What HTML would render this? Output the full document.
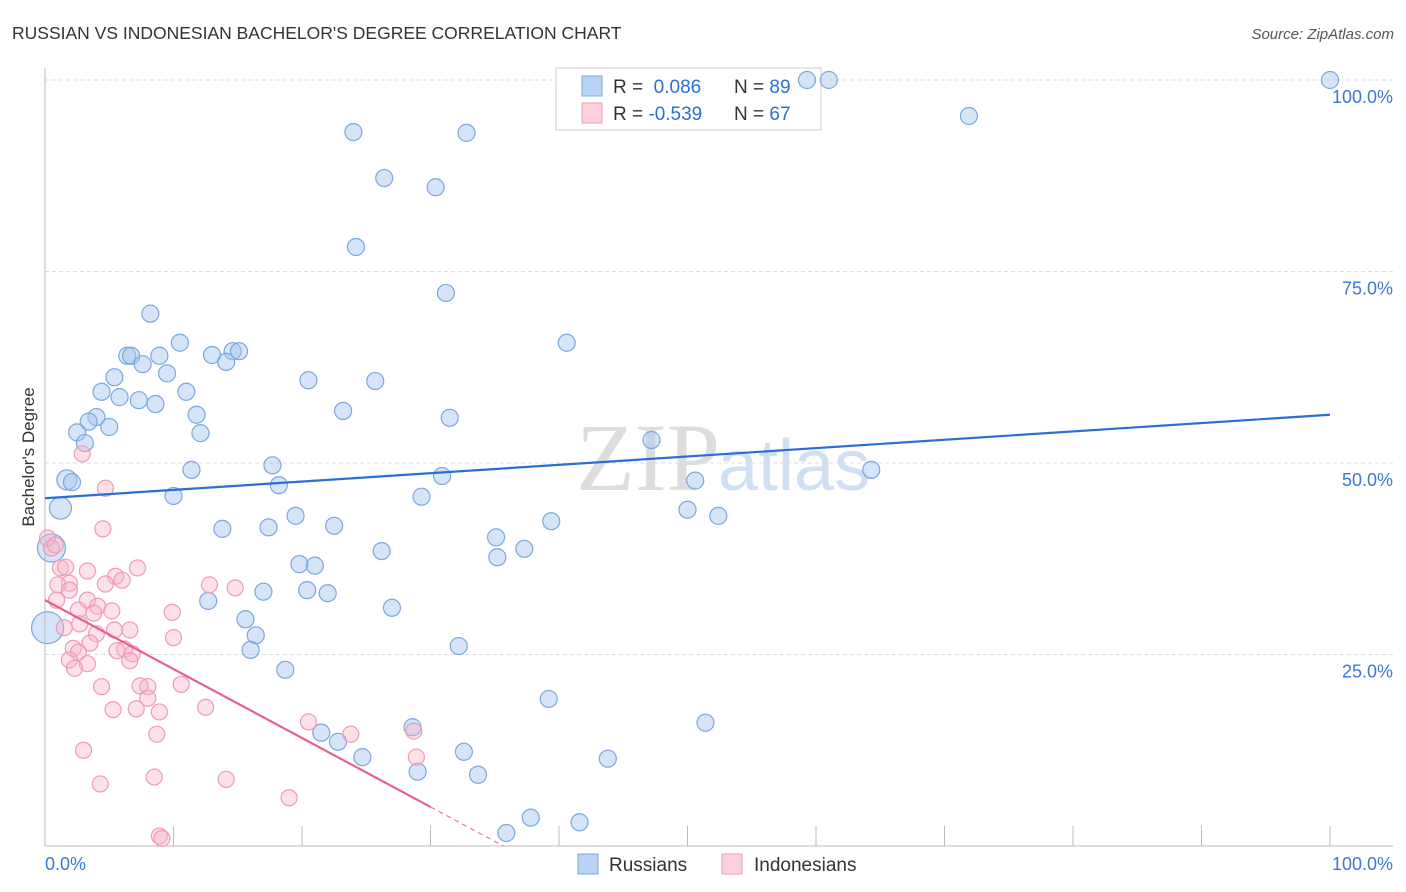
<!DOCTYPE html>
<html><head><meta charset="utf-8"><style>
body{margin:0;background:#fff;width:1406px;height:892px;overflow:hidden;font-family:"Liberation Sans",sans-serif}
svg{position:absolute;left:0;top:0}
</style></head><body>
<svg id="c" width="1406" height="892">
<text x="12" y="39" font-size="17.5" fill="#333">RUSSIAN VS INDONESIAN BACHELOR'S DEGREE CORRELATION CHART</text>
<text x="1394" y="39" font-size="15" fill="#555" font-style="italic" text-anchor="end">Source: ZipAtlas.com</text>
<text x="34" y="457" font-size="17" fill="#333" transform="rotate(-90 34 457)" text-anchor="middle">Bachelor's Degree</text>
<text x="720" y="490" font-size="96" font-family="Liberation Serif,serif" fill="#ddd" text-anchor="end">ZIP</text>
<text x="718" y="490" font-size="72" fill="#cfe0f5">atlas</text>
<g id="grid"></g>
<g>
<rect x="556" y="68" width="265" height="62" fill="#fff" stroke="#ccc"/>
<rect x="582" y="76" width="20" height="20" fill="#b9d3f5" stroke="#7aa7e0"/>
<rect x="582" y="103" width="20" height="20" fill="#fcd0dc" stroke="#f09ab5"/>
<text x="613" y="93" font-size="19" fill="#333">R = <tspan fill="#2a6fd4">&#160;0.086</tspan></text>
<text x="734" y="93" font-size="19" fill="#333">N = <tspan fill="#2a6fd4">89</tspan></text>
<text x="613" y="120" font-size="19" fill="#333">R = <tspan fill="#2a6fd4">-0.539</tspan></text>
<text x="734" y="120" font-size="19" fill="#333">N = <tspan fill="#2a6fd4">67</tspan></text>
</g>
<g id="pts"></g><g id="lines"></g>
<g>
<rect x="578" y="854" width="20" height="20" fill="#b9d3f5" stroke="#7aa7e0"/>
<text x="609" y="871" font-size="19" fill="#333">Russians</text>
<rect x="722" y="854" width="20" height="20" fill="#fcd0dc" stroke="#f09ab5"/>
<text x="754" y="871" font-size="19" fill="#333">Indonesians</text>
</g>
</svg>
<script>
const blueX=[100,61.0,59.3,71.9,24.0,32.8,26.4,30.4,24.2,31.2,8.2,40.6,10.5,6.4,6.7,8.9,13.0,14.6,15.1,14.1,7.6,5.4,9.5,20.5,25.7,4.4,11.0,5.8,7.3,8.6,23.2,11.8,31.5,4.0,3.4,5.0,2.5,12.1,3.1,47.2,64.3,11.4,17.7,1.7,2.1,30.9,18.2,50.6,10.0,29.3,1.2,50.0,52.4,19.5,39.4,13.8,17.4,22.5,35.1,37.3,26.2,35.2,0.5,19.8,21.0,20.4,17.0,22.0,12.7,27.0,15.6,16.4,32.2,16.0,0.2,18.7,39.2,51.4,28.6,21.5,22.8,32.6,24.7,43.8,29.0,33.7,37.8,35.9,41.6];
const blueY=[100,100,100,95.3,93.2,93.1,87.2,86.0,78.2,72.2,69.5,65.7,65.7,64.0,64.0,64.0,64.1,64.6,64.6,63.2,62.9,61.2,61.7,60.8,60.7,59.3,59.3,58.6,58.2,57.7,56.8,56.3,55.9,56.0,55.4,54.7,54.0,53.9,52.6,53.0,49.1,49.1,49.7,47.8,47.5,48.3,47.1,47.7,45.7,45.6,44.1,43.9,43.1,43.1,42.4,41.4,41.6,41.8,40.3,38.8,38.5,37.7,38.9,36.8,36.6,33.4,33.2,33.0,32.0,31.1,29.6,27.5,26.1,25.6,28.5,23.0,19.2,16.1,15.5,14.8,13.6,12.3,11.6,11.4,9.7,9.3,3.7,1.7,3.1];
const pinkX=[0.2,0.5,0.8,2.9,4.7,4.5,1.2,1.6,1.9,7.2,3.3,5.5,6.0,4.7,1.0,1.9,3.3,0.9,2.6,4.1,5.2,3.8,6.6,1.5,4.0,2.7,12.8,14.8,9.9,5.4,10.0,6.2,3.5,2.2,2.6,5.6,6.8,1.9,6.6,3.3,2.3,8.0,10.6,4.4,7.4,8.0,5.3,7.1,8.9,12.5,8.7,3.0,20.5,23.8,28.7,28.9,8.5,14.1,4.3,19.0,8.9,9.1];
const pinkY=[40.2,38.9,39.3,51.2,46.7,41.4,36.3,36.4,34.3,36.3,35.9,35.2,34.7,34.2,34.1,33.4,32.1,32.1,30.8,31.3,30.7,30.4,28.2,28.5,27.7,29.0,34.1,33.7,30.5,28.2,27.2,25.7,26.5,25.8,25.3,25.5,25.1,24.3,24.2,23.8,23.2,20.8,21.1,20.8,20.9,19.3,17.8,17.9,17.5,18.1,14.6,12.5,16.2,14.6,15.0,11.6,9.0,8.7,8.1,6.3,1.3,1.0];
const yTicks=[25,50,75,100];
const blueTrend=[45.4,56.3];
const pinkTrend=[32.1,-0.9];
const NS="http://www.w3.org/2000/svg";
const xs=v=>45+v*12.85, ys=v=>846-v*7.66;
function mk(t,a,p){const e=document.createElementNS(NS,t);for(const k in a)e.setAttribute(k,a[k]);p.appendChild(e);return e;}
const g=document.getElementById('grid');
yTicks.forEach(t=>{
 const l=mk('line',{x1:45,x2:1393,y1:ys(t),y2:ys(t),stroke:'#ddd','stroke-dasharray':'4,3'},g);
 
 
 const tx=mk('text',{x:1393,y:ys(t)+23,'font-size':18,fill:'#3b78d8','text-anchor':'end'},g);
 tx.textContent=t.toFixed(1)+'%';
 
 
});
mk('line',{x1:45,x2:45,y1:68,y2:846,stroke:'#bbb'},g);
mk('line',{x1:45,x2:1393,y1:846,y2:846,stroke:'#bbb'},g);
for(let i=0;i<=10;i++){const t=mk('line',{x1:xs(i*10),x2:xs(i*10),y1:846,y2:i==0?846:826,stroke:'#bbb'},g);}
[[0,'0.0%','start',45],[100,'100.0%','end',1393]].forEach(a=>{const t=mk('text',{x:a[3],y:870,'font-size':18,fill:'#3b78d8','text-anchor':a[2]},g);t.textContent=a[1];});
const p=document.getElementById('pts');
function rb(x,y){if(x<0.3&&y<30)return 16;if(x<0.6&&y<40)return 14;if(x<1.3&&y<45)return 11;if(x<2&&y<48&&y>47.6)return 10;return 8.5;}
blueX.forEach((x,i)=>{const c=mk('circle',{cx:xs(x),cy:ys(blueY[i]),r:rb(x,blueY[i]),fill:'rgba(164,196,240,0.45)',stroke:'#7aa7e0','stroke-width':1.2},p);
 
 });
pinkX.forEach((x,i)=>{const c=mk('circle',{cx:xs(x),cy:ys(pinkY[i]),r:8,fill:'rgba(248,180,200,0.4)',stroke:'#f09ab5','stroke-width':1.2},p);
 
 });
const L=document.getElementById('lines');
const bl=mk('line',{x1:xs(0),y1:ys(blueTrend[0]),x2:xs(100),y2:ys(blueTrend[1]),stroke:'#2a6fd4','stroke-width':2.2},L);


const pf=x=>pinkTrend[0]+pinkTrend[1]*x, x0=-pinkTrend[0]/pinkTrend[1];
const pl=mk('line',{x1:xs(0),y1:ys(pf(0)),x2:xs(30),y2:ys(pf(30)),stroke:'#e8608f','stroke-width':2.2},L);


const pd=mk('line',{x1:xs(30),y1:ys(pf(30)),x2:xs(x0),y2:ys(0),stroke:'#e8608f','stroke-width':1,'stroke-dasharray':'5,4'},L);


</script>
</body></html>
